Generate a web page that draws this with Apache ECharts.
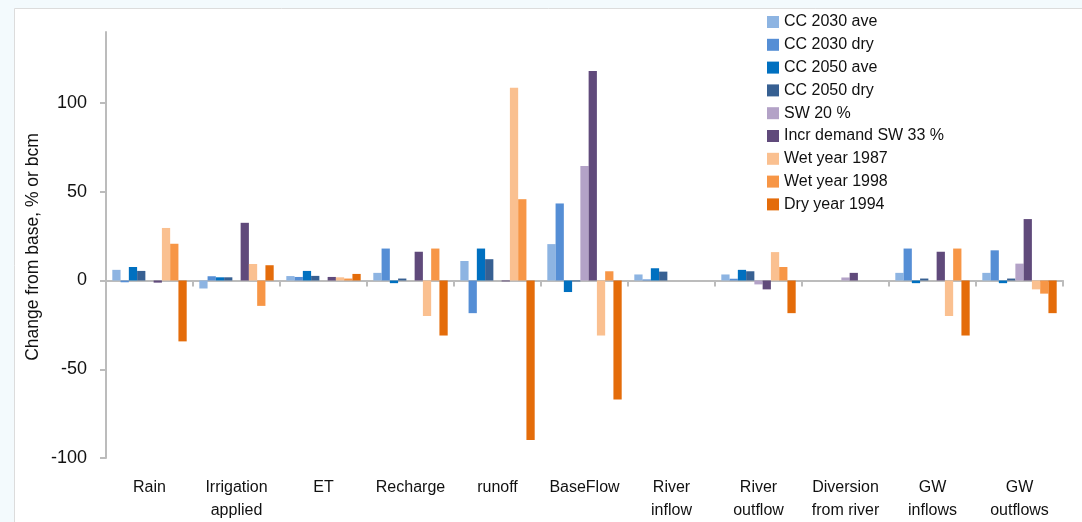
<!DOCTYPE html>
<html>
<head>
<meta charset="utf-8">
<title>Change from base</title>
<script src="https://cdn.jsdelivr.net/npm/echarts@6/dist/echarts.min.js"></script>
<style>
  html, body { margin: 0; padding: 0; background: #f3fafd; }
  #chart { width: 1082px; height: 522px; }
</style>
</head>
<body>
<div id="chart"></div>
<script>
// Water balance components
const categories = ['Rain', 'Irrigation\napplied', 'ET', 'Recharge', 'runoff', 'BaseFlow',
  'River\ninflow', 'River\noutflow', 'Diversion\nfrom river', 'GW\ninflows', 'GW\noutflows'];

// Scenario results (change from base, % or bcm)
const cc2030Ave  = [6, -4.5, 2.5, 4.3, 11, 20.5, 3.4, 3.4, 0, 4.3, 4.3];
const cc2030Dry  = [-1, 2.4, 2, 18, -18.4, 43.4, 0.6, 1, 0, 18, 17];
const cc2050Ave  = [7.6, 1.8, 5.4, -1.5, 18, -6.5, 6.9, 6, 0, -1.5, -1.5];
const cc2050Dry  = [5.4, 1.8, 2.6, 1.1, 12, -0.5, 5, 5.2, 0, 1.1, 1.1];
const sw20       = [0, 0, 0, 0, 0, 64.5, 0, -2.2, 1.7, 0, 9.5];
const incrSw33   = [-1.2, 32.5, 2, 16.2, -0.5, 118, 0, -5, 4.3, 16.2, 34.6];
const wet1987    = [29.6, 9.3, 1.8, -20, 108.6, -31, 0, 16, 0, -20, -5];
const wet1998    = [20.7, -14.3, 1.1, 18, 45.8, 5.2, 0, 7.6, 0, 18, -7.4];
const dry1994    = [-34.3, 8.6, 3.7, -31, -89.8, -67, 0, -18.4, 0, -31, -18.4];

const seriesNames = ['CC 2030 ave', 'CC 2030 dry', 'CC 2050 ave', 'CC 2050 dry', 'SW 20 %',
  'Incr demand SW 33 %', 'Wet year 1987', 'Wet year 1998', 'Dry year 1994'];
const seriesData = [cc2030Ave, cc2030Dry, cc2050Ave, cc2050Dry, sw20, incrSw33, wet1987, wet1998, dry1994];
const seriesColors = ['#8db4e2', '#558ed5', '#0070c0', '#376092', '#b3a2c7',
  '#604a7b', '#fac090', '#f79646', '#e46c0a'];

const yTicks = [-100, -50, 0, 50, 100];

const FONT = '"Liberation Sans", Arial, sans-serif';
const chart = echarts.init(document.getElementById('chart'), null, { renderer: 'canvas' });

chart.setOption({
  backgroundColor: '#f3fafd',
  animation: false,
  textStyle: { fontFamily: FONT, color: '#111' },
  graphic: [
    {
      type: 'rect', left: 14, top: 8, z: -10,
      shape: { width: 1100, height: 540 },
      style: { fill: '#ffffff', stroke: '#dcdcdc', lineWidth: 1 }
    },
    {
      type: 'text', x: 33, y: 247, rotation: Math.PI / 2,
      style: {
        text: 'Change from base, % or bcm', fill: '#111',
        font: '17.5px ' + FONT, textAlign: 'center', textVerticalAlign: 'middle'
      }
    }
  ],
  legend: {
    orient: 'vertical', left: 762, top: 9,
    itemWidth: 12, itemHeight: 12, itemGap: 6.8,
    icon: 'rect',
    textStyle: { fontSize: 16, lineHeight: 16, color: '#111', fontFamily: FONT },
    itemStyle: { borderWidth: 0 },
    data: seriesNames
  },
  grid: { left: 106, right: 19, top: 32, bottom: 57, containLabel: false },
  xAxis: [
    {
      type: 'category', data: categories,
      axisLine: { onZero: true, lineStyle: { color: '#bcbcbc', width: 2 } },
      axisTick: { show: true, length: 6, lineStyle: { color: '#bcbcbc', width: 2 } },
      axisLabel: { show: false }
    },
    {
      type: 'category', data: categories, position: 'bottom',
      axisLine: { show: false }, axisTick: { show: false },
      axisLabel: { margin: 18, fontSize: 16, lineHeight: 23, color: '#111', interval: 0, fontFamily: FONT }
    }
  ],
  yAxis: {
    type: 'value', min: -100, max: 140, interval: 50,
    splitLine: { show: false },
    axisLine: { show: true, lineStyle: { color: '#bcbcbc', width: 2 } },
    axisTick: { show: true, length: 6, customValues: yTicks, lineStyle: { color: '#bcbcbc', width: 2 } },
    axisLabel: { margin: 19, fontSize: 18, color: '#111', customValues: yTicks, fontFamily: FONT }
  },
  series: seriesNames.map((name, i) => ({
    name: name, type: 'bar', xAxisIndex: 0,
    data: seriesData[i],
    itemStyle: { color: seriesColors[i] },
    barGap: '0%', barCategoryGap: '14.5%'
  }))
});
</script>
</body>
</html>
